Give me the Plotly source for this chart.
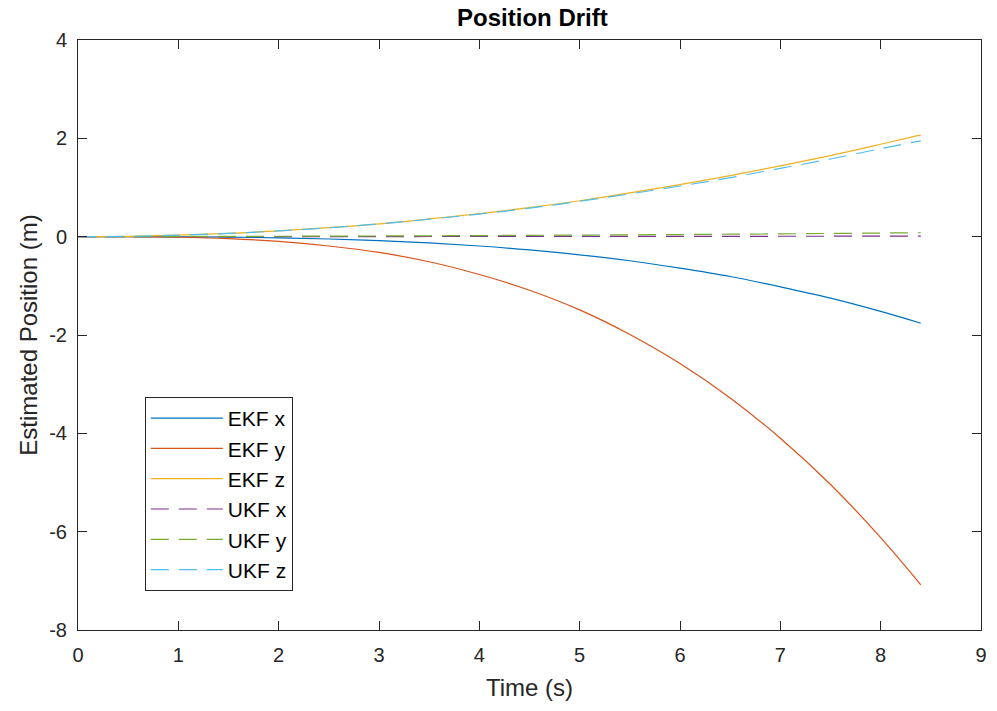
import plotly.graph_objects as go

t = [0, 0.5, 1, 1.5, 2, 2.5, 3, 3.5, 4, 4.5, 5, 5.5, 6, 6.5, 7, 7.5, 8, 8.4]
ekf_x = [0, -0.0004, -0.003, -0.010, -0.024, -0.047, -0.08, -0.128, -0.19, -0.27, -0.37, -0.49, -0.64, -0.81, -1.02, -1.25, -1.52, -1.76]
ekf_y = [0, -0.0015, -0.012, -0.04, -0.096, -0.19, -0.32, -0.51, -0.77, -1.09, -1.49, -1.99, -2.58, -3.28, -4.10, -5.04, -6.12, -7.08]
ekf_z = [0, 0.007, 0.03, 0.066, 0.117, 0.183, 0.26, 0.36, 0.47, 0.59, 0.73, 0.89, 1.06, 1.24, 1.44, 1.65, 1.88, 2.07]
ukf_x = [0, 0.0002, 0.0005, 0.001, 0.0015, 0.002, 0.0025, 0.003, 0.0035, 0.004, 0.0045, 0.005, 0.006, 0.007, 0.008, 0.009, 0.010, 0.011]
ukf_y = [0, 0.001, 0.003, 0.005, 0.008, 0.011, 0.014, 0.018, 0.022, 0.027, 0.032, 0.037, 0.043, 0.050, 0.057, 0.065, 0.074, 0.08]
ukf_z = [0, 0.007, 0.03, 0.066, 0.116, 0.181, 0.26, 0.355, 0.46, 0.58, 0.72, 0.87, 1.03, 1.20, 1.39, 1.58, 1.79, 1.95]

x_ticks = [0, 1, 2, 3, 4, 5, 6, 7, 8, 9]
y_ticks = [-8, -6, -4, -2, 0, 2, 4]
y_tick_labels = ["-8", "-6", "-4", "-2", "0", "2", "4"]

series = [
    ("EKF x", ekf_x, "#0072BD", "solid"),
    ("EKF y", ekf_y, "#D95319", "solid"),
    ("EKF z", ekf_z, "#EDB120", "solid"),
    ("UKF x", ukf_x, "#7E2F8E", "18px,10px"),
    ("UKF y", ukf_y, "#77AC30", "18px,10px"),
    ("UKF z", ukf_z, "#4DBEEE", "18px,10px"),
]

fig = go.Figure()
for name, ys, color, dash in series:
    fig.add_trace(go.Scatter(x=t, y=ys, name=name, mode="lines",
                             line=dict(color=color, width=1.2, dash=dash, shape="spline")))

font = "Liberation Sans, Arial, sans-serif"
axis_common = dict(showgrid=False, zeroline=False, showline=True, linecolor="#262626",
                   linewidth=1, mirror="allticks", ticks="inside", ticklen=9,
                   tickcolor="#262626", tickfont=dict(family=font, size=20, color="#262626"))

fig.update_layout(
    width=997, height=711,
    margin=dict(l=78, r=10, t=40, b=81),
    paper_bgcolor="white", plot_bgcolor="white",
    title=dict(text="<b>Position Drift</b>", x=0.534, xanchor="center", y=0.975, yanchor="middle",
               font=dict(family=font, size=24, color="black")),
    xaxis=dict(range=[0, 9], tickvals=x_ticks, ticklabelstandoff=7,
               title=dict(text="Time (s)", font=dict(family=font, size=24, color="#262626"), standoff=14),
               **axis_common),
    yaxis=dict(range=[-8, 4], tickvals=y_ticks, ticktext=y_tick_labels, ticklabelstandoff=6,
               title=dict(text="Estimated Position (m)", font=dict(family=font, size=24, color="#262626"), standoff=4),
               **axis_common),
    legend=dict(x=0.074, y=0.395, xanchor="left", yanchor="top", bgcolor="white",
                bordercolor="#262626", borderwidth=1, itemwidth=72,
                font=dict(family=font, size=21, color="black"), tracegroupgap=0),
    showlegend=True,
)

fig.write_html("out.html")
